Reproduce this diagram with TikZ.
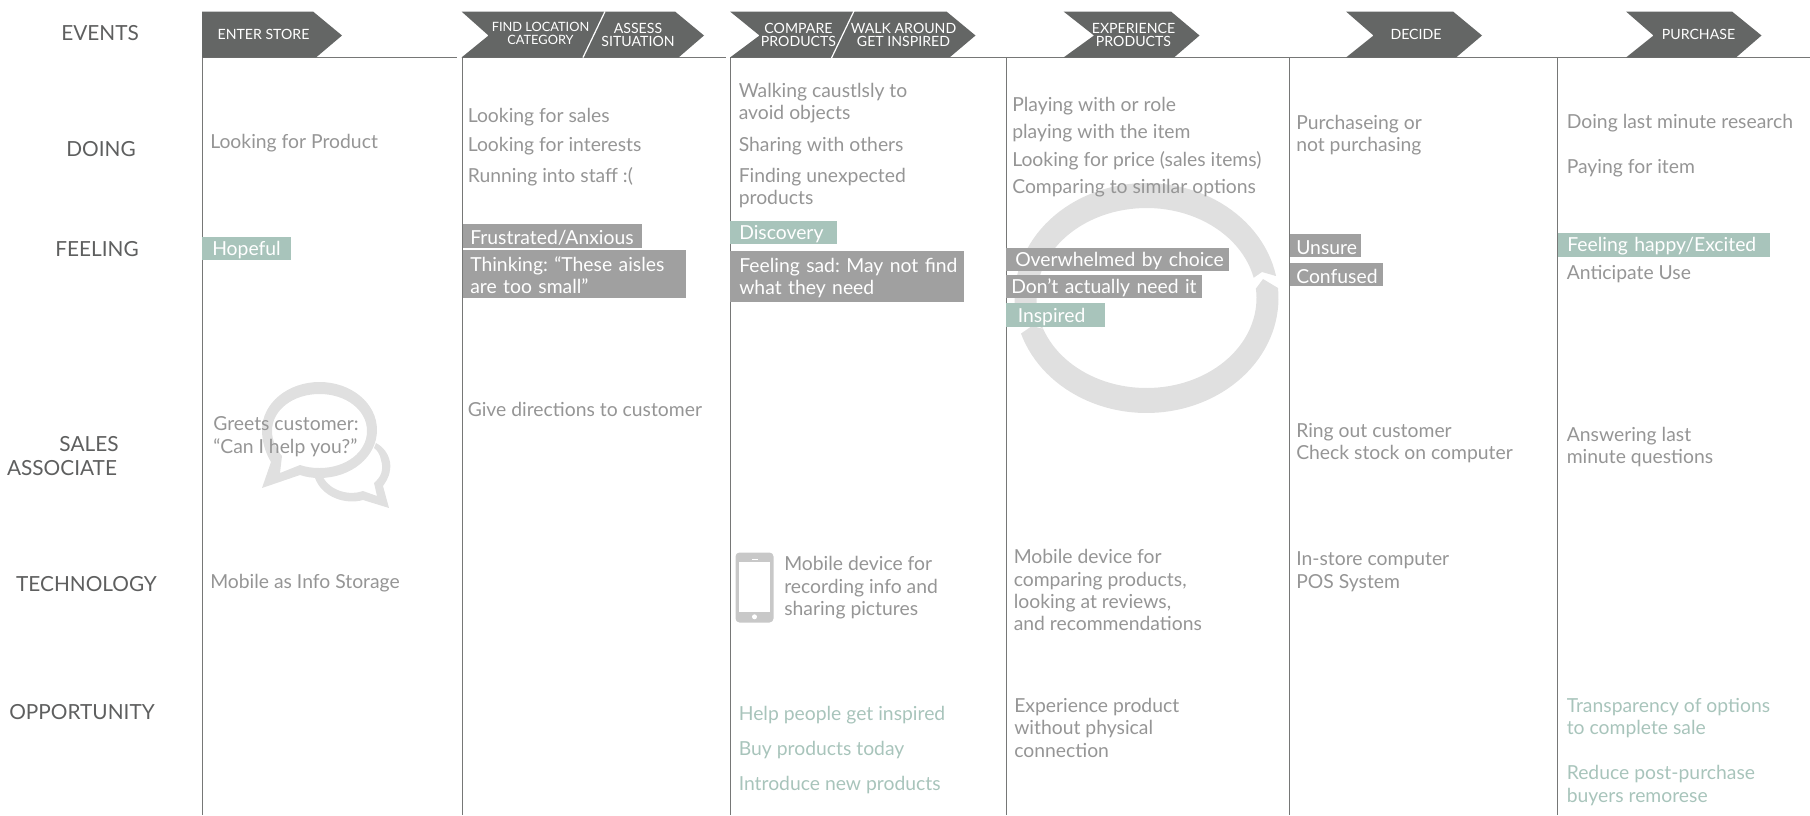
\documentclass[tikz,border=0pt]{standalone}
\usepackage{fontspec}
\setmainfont{Lato}
\frenchspacing
\usetikzlibrary{positioning}
\definecolor{arrowgrey}{HTML}{646665}
\definecolor{rulegrey}{HTML}{767776}
\definecolor{rowtext}{HTML}{5E5F5F}
\definecolor{notetext}{HTML}{959595}
\definecolor{tealtext}{HTML}{A8C4BB}
\definecolor{greytag}{HTML}{A0A0A0}
\definecolor{tealtag}{HTML}{A8C4BB}
\definecolor{watermark}{HTML}{E0E0E0}
\definecolor{phonegrey}{HTML}{C8C8C8}
\tikzset{
  colrule/.style={draw=rulegrey,line width=0.75pt},
  rowlabel/.style={text=rowtext,font=\fontsize{15.6}{18.5}\selectfont,inner sep=0pt,align=center,yshift=-0.5pt},
  eventlabel/.style={text=white,font=\fontsize{10.6}{9.9}\selectfont,inner sep=0pt,align=center},
  smallevent/.style={eventlabel,font=\fontsize{9.6}{9.2}\selectfont},
  note/.style={anchor=west,text=notetext,font=\fontsize{14.5}{16.8}\selectfont,inner sep=0pt,align=left,yshift=-1pt},
  oppnote/.style={note,text=tealtext},
  tag/.style n args={3}{anchor=west,text=white,font=\fontsize{14.5}{17}\selectfont,align=left,
    inner ysep=0pt,inner xsep=#2*0.75pt,text width=(#1-2*#2)*0.75pt,minimum height=#3*0.75pt,
    execute at begin node={\rule{0pt}{13pt}}},
  greybox/.style n args={3}{tag={#1}{#2}{#3},fill=greytag},
  tealbox/.style n args={3}{tag={#1}{#2}{#3},fill=tealtag},
  markfill/.style={fill=watermark,draw=none}
}
\newcommand{\eventarrow}[5]{\fill[arrowgrey] (#1,11.5) -- (#3,11.5) -- (#4,35.5) -- (#5,57.5) -- (#1,57.5) -- (#2,35.5) -- cycle;}
\begin{document}
\begin{tikzpicture}[x=0.75pt,y=-0.75pt]
  \useasboundingbox (0,0) rectangle (1810,815);

  \fill[markfill] plot[domain=172:349,samples=60] ({1146.5+132*cos(\x)},{298+115*sin(\x)})
    -- (1262,272) -- plot[domain=347:160,samples=60] ({1146.5+110*cos(\x)},{298+90*sin(\x)}) -- cycle;
  \fill[markfill] plot[domain=-5:162,samples=60] ({1146.5+132*cos(\x)},{298+115*sin(\x)})
    -- (1032,326) -- plot[domain=160:-6,samples=60] ({1146.5+110*cos(\x)},{298+90*sin(\x)}) -- (1263,279) -- cycle;

  \fill[markfill] (376,443) .. controls (386,448) and (392,460) .. (390,470) .. controls (389,478) and (385,483) .. (383,486)
    -- (389,508) -- (363,500) .. controls (345,505) and (322,497) .. (315,478) -- (323,477)
    .. controls (330,491) and (350,496) .. (363,491) -- (377,496) -- (374,483)
    .. controls (381,477) and (384,470) .. (381,460) .. controls (380,454) and (377,450) .. (374,448) -- cycle;
  \fill[markfill,even odd rule] (262,488) -- (271,462) .. controls (265,452) and (262,441) .. (262,430)
    .. controls (262,403) and (288,382) .. (319.5,382) .. controls (351,382) and (377,403) .. (377,430)
    .. controls (377,457) and (351,478) .. (319.5,478) .. controls (312,478) and (306,477) .. (300,475) -- cycle
    (280,473) -- (282,456) .. controls (276,449) and (272,440) .. (272,431)
    .. controls (272,410) and (293,394) .. (319.5,394) .. controls (346,394) and (367,410) .. (367,431)
    .. controls (367,452) and (346,468) .. (319.5,468) .. controls (312,468) and (306,467) .. (300,465) -- cycle;

  \foreach \colx in {202,462,730,1006,1289.5,1557.5}
    \draw[colrule] (\colx,57) -- (\colx,815);
  \draw[colrule] (202,57) -- (456.5,57);
  \draw[colrule] (462,57) -- (725.5,57);
  \draw[colrule] (730,57) -- (1810,57);

  \eventarrow{202}{202}{313}{342}{316}
  \eventarrow{461.5}{488.5}{675}{704}{678.5}
  \eventarrow{730}{759.5}{946.5}{975.5}{949.5}
  \eventarrow{1063.5}{1094}{1171}{1199.5}{1174}
  \eventarrow{1346}{1373.5}{1453}{1482}{1456}
  \eventarrow{1626}{1653.5}{1732}{1761.5}{1736}
  \draw[white,line width=0.9pt] (605,11.5) -- (583,57.5);
  \draw[white,line width=0.9pt] (854.5,10) -- (831.5,58);

  \node[eventlabel] (enterstore) at (263.5,34.5) {ENTER STORE};
  \node[smallevent] (findlocation) at (540.5,33.5) {FIND LOCATION\\CATEGORY};
  \node[eventlabel] (assess) at (638,35) {ASSESS\\SITUATION};
  \node[eventlabel] (compare) at (798.5,35) {COMPARE\\PRODUCTS};
  \node[eventlabel] (walkaround) at (903.5,35) {WALK AROUND\\GET INSPIRED};
  \node[eventlabel] (experience) at (1133.5,35) {EXPERIENCE\\PRODUCTS};
  \node[eventlabel] (decide) at (1416,34.5) {DECIDE};
  \node[eventlabel] (purchase) at (1698.5,34.5) {PURCHASE};

  \node[rowlabel] (events) at (100,32) {EVENTS};
  \node[rowlabel] (doing) at (101,148) {DOING};
  \node[rowlabel] (feeling) at (97,248) {FEELING};
  \node[rowlabel] (sales) at (89,443) {SALES};
  \node[rowlabel] (associate) at (62,467.5) {ASSOCIATE};
  \node[rowlabel] (technology) at (86.5,583) {TECHNOLOGY};
  \node[rowlabel] (opportunity) at (82,711) {OPPORTUNITY};

  \node[note] (lookproduct) at (210,142) {Looking for Product};
  \node[tealbox={89}{10}{23.5}] (hopeful) at (202,248.5) {Hopeful};
  \node[note] (greets) at (213,435.5) {Greets customer:\\``Can I help you?''};
  \node[note] (infostorage) at (210,582) {Mobile as Info Storage};

  \node[note] (looksales) at (467.5,115.5) {Looking for sales};
  \node[note] (lookinterests) at (467.5,145) {Looking for interests};
  \node[note] (runstaff) at (467.5,175.5) {Running into staff :(};
  \node[greybox={179}{7}{23.5}] (frustrated) at (463,236) {\mbox{Frustrated/Anxious}};
  \node[greybox={223}{7}{48}] (thinking) at (463,274) {\mbox{Thinking: ``These aisles}\\are too small''};
  \node[note] (directions) at (467.5,408.5) {Give directions to customer};

  \node[note] (walking) at (738.5,101.5) {Walking caustlsly to\\avoid objects};
  \node[note] (sharing) at (738.5,145) {Sharing with others};
  \node[note] (finding) at (738.5,186.5) {Finding unexpected\\products};
  \node[tealbox={106.5}{9}{23.5}] (discovery) at (730,232.5) {Discovery};
  \node[greybox={233.5}{9}{51}] (feelingsad) at (730,276.5) {\mbox{Feeling sad: May not find}\\what they need};
  \fill[phonegrey,rounded corners=3pt] (735.5,552.5) rectangle (773.5,622.5);
  \fill[white] (739,562) rectangle (770,612);
  \fill[white] (751.5,558.5) rectangle (757.5,559.5);
  \fill[white] (754.5,616.8) circle (2.5);
  \node[note] (mobilerecord) at (784,586.5) {Mobile device for\\recording info and\\sharing pictures};
  \node[oppnote] (inspired) at (738.5,714) {Help people get inspired};
  \node[oppnote] (buytoday) at (738.5,749) {Buy products today};
  \node[oppnote] (introduce) at (738.5,784) {Introduce new products};

  \node[note] (playingrole) at (1012,104.5) {Playing with or role};
  \node[note] (playingitem) at (1012,132) {playing with the item};
  \node[note] (lookprice) at (1012,159) {Looking for price (sales items)};
  \node[note] (comparing) at (1012,186.5) {Comparing to similar options};
  \node[greybox={223}{9}{23.5}] (overwhelmed) at (1006,259.5) {\mbox{Overwhelmed by choice}};
  \node[greybox={196}{5}{23.5}] (dontneed) at (1006,286.5) {\mbox{Don’t actually need it}};
  \node[tealbox={99}{11.5}{23.5}] (feltinspired) at (1006,315) {Inspired};
  \node[note] (mobilecompare) at (1013.5,589) {Mobile device for\\comparing products,\\looking at reviews,\\and recommendations};
  \node[note] (experienceproduct) at (1014,726.5) {Experience product\\without physical\\connection};

  \node[note] (purchasing) at (1296,134) {Purchaseing or\\not purchasing};
  \node[greybox={71}{6}{23.5}] (unsure) at (1290,245.5) {Unsure};
  \node[greybox={92.5}{6}{23.5}] (confused) at (1290,274.5) {Confused};
  \node[note] (ringout) at (1296,442) {Ring out customer\\Check stock on computer};
  \node[note] (instore) at (1296,570.5) {In-store computer\\POS System};

  \node[note] (research) at (1566.5,122) {Doing last minute research};
  \node[note] (payingitem) at (1566.5,166.5) {Paying for item};
  \node[tealbox={212}{9}{23.5}] (happy) at (1558,245) {\mbox{Feeling happy/Excited}};
  \node[note] (anticipate) at (1566.5,272.5) {Anticipate Use};
  \node[note] (answering) at (1566.5,445.5) {Answering last\\minute questions};
  \node[oppnote] (transparency) at (1566.5,717) {Transparency of options\\to complete sale};
  \node[oppnote] (remorse) at (1566.5,784) {Reduce post-purchase\\buyers remorese};
\end{tikzpicture}
\end{document}
